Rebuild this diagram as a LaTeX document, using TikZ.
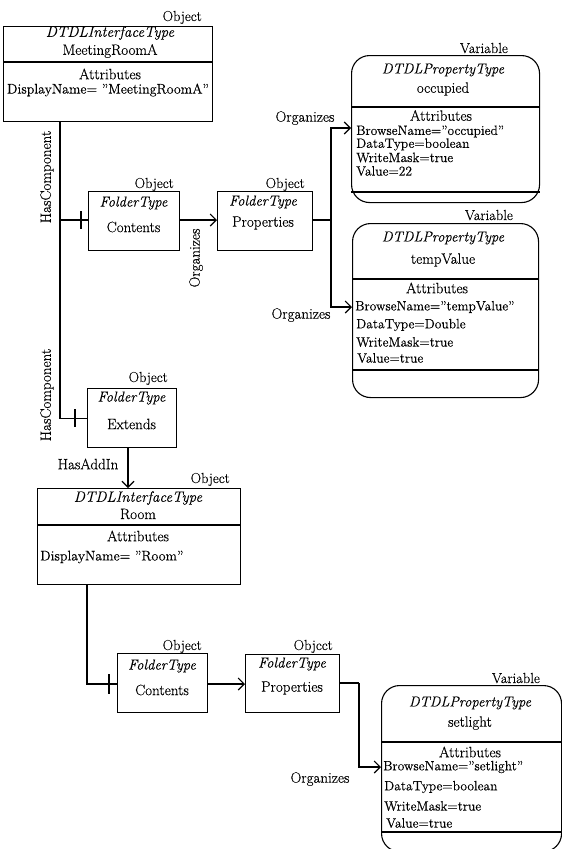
\documentclass[tikz,border=0pt]{standalone}
\usepackage{fontspec}
\setmainfont{Latin Modern Roman}[UprightFeatures={FakeBold=0.3},ItalicFeatures={FakeBold=0.05}]
\usetikzlibrary{arrows.meta,calc}
\tikzset{
  box/.style={draw, line width=1.1pt, inner sep=0pt, anchor=north west},
  vbox/.style={box, rounded corners=18pt},
  txt/.style={inner sep=0pt, font=\fontsize{15}{17}\selectfont},
  ittxt/.style={inner sep=0pt, font=\fontsize{14.5}{17}\selectfont\itshape},
  itsmall/.style={inner sep=0pt, font=\fontsize{15}{17}\selectfont\itshape},
  attr/.style={inner sep=0pt, anchor=west, font=\fontsize{13.5}{16}\selectfont},
  lbl/.style={inner sep=0pt, anchor=base east, font=\fontsize{14.5}{17}\selectfont},
  con/.style={line width=1.1pt},
  arr/.style={con, -{Straight Barb[length=6pt,width=12pt,line width=1.1pt]}},
}
\begin{document}
\begin{tikzpicture}[x=1pt,y=-1pt]
\clip (0,0) rectangle (562,849);
\fill[white] (0,0) rectangle (562,849);

% ---------- MeetingRoomA ----------
\node[box, minimum width=209pt, minimum height=95pt] (mra) at (3,26) {};
\draw[con] ($(mra.north west)+(0,36)$) -- ($(mra.north east)+(0,36)$);
\node[lbl] (mraL) at (202,21) {Object};
\node[itsmall] (mraT) at (110,33) {DTDLInterfaceType};
\node[txt] (mraN) at (110,51) {MeetingRoomA};
\node[txt] (mraA) at (110,74) {Attributes};
\node[txt, font=\fontsize{14}{17}\selectfont] (mraD) at (108,90) {DisplayName= ”MeetingRoomA”};

% ---------- Contents (A) ----------
\node[box, minimum width=91pt, minimum height=59pt] (cA) at (88,191) {};
\node[lbl] (cAL) at (174,188) {Object};
\node[ittxt] (cAT) at (133.5,203) {FolderType};
\node[txt] (cAN) at (133.5,227) {Contents};

% ---------- Properties (A) ----------
\node[box, minimum width=95pt, minimum height=59pt] (pA) at (217,191) {};
\node[lbl] (pAL) at (305,188) {Object};
\node[ittxt] (pAT) at (263,202) {FolderType};
\node[txt] (pAN) at (263,223) {Properties};

% ---------- occupied ----------
\node[vbox, minimum width=188pt, minimum height=147pt] (vO) at (351,55) {};
\draw[con] ($(vO.north west)+(0,52)$) -- ($(vO.north east)+(0,52)$);
\draw[con] ($(vO.north west)+(0,137)$) -- ($(vO.north east)+(0,137)$);
\node[lbl] (vOL) at (508,53) {Variable};
\node[ittxt] (vOT) at (443,70) {DTDLPropertyType};
\node[txt] (vON) at (443,89) {occupied};
\node[txt] (vOA) at (441,115.5) {Attributes};
\node[attr] (vO1) at (356,131.5) {BrowseName=”occupied”};
\node[attr] (vO2) at (356,144.5) {DataType=boolean};
\node[attr] (vO3) at (356,157.5) {WriteMask=true};
\node[attr] (vO4) at (356,171) {Value=22};

% ---------- tempValue ----------
\node[vbox, minimum width=186pt, minimum height=174pt] (vT) at (352,223) {};
\draw[con] ($(vT.north west)+(0,56)$) -- ($(vT.north east)+(0,56)$);
\draw[con] ($(vT.north west)+(0,147)$) -- ($(vT.north east)+(0,147)$);
\node[lbl] (vTL) at (513,220) {Variable};
\node[ittxt] (vTT) at (443,238) {DTDLPropertyType};
\node[txt] (vTN) at (443,260) {tempValue};
\node[txt] (vTA) at (437,288) {Attributes};
\node[attr] (vT1) at (355,307) {BrowseName=”tempValue”};
\node[attr] (vT2) at (356,325) {DataType=Double};
\node[attr] (vT3) at (356,342) {WriteMask=true};
\node[attr] (vT4) at (357,358) {Value=true};

% ---------- Extends ----------
\node[box, minimum width=89pt, minimum height=59pt] (ext) at (87,388) {};
\node[lbl] (extL) at (168,382) {Object};
\node[ittxt] (extT) at (131.5,398) {FolderType};
\node[txt] (extN) at (131.5,424) {Extends};

% ---------- Room ----------
\node[box, minimum width=203pt, minimum height=96pt] (room) at (37,488) {};
\draw[con] ($(room.north west)+(0,37)$) -- ($(room.north east)+(0,37)$);
\node[lbl] (roomL) at (230,483) {Object};
\node[itsmall] (roomT) at (138,498) {DTDLInterfaceType};
\node[txt] (roomN) at (138,514) {Room};
\node[txt] (roomA) at (138,536) {Attributes};
\node[attr, font=\fontsize{14}{17}\selectfont] (roomD) at (40,557) {DisplayName= ”Room”};

% ---------- Contents (B) ----------
\node[box, minimum width=90pt, minimum height=59pt] (cB) at (117,653) {};
\node[lbl] (cBL) at (202,650) {Object};
\node[ittxt] (cBT) at (162,666) {FolderType};
\node[txt] (cBN) at (162,690) {Contents};

% ---------- Properties (B) ----------
\node[box, minimum width=94pt, minimum height=58pt] (pB) at (245,654) {};
\node[lbl] (pBL) at (333,650) {Objcct};
\node[ittxt] (pBT) at (292,664) {FolderType};
\node[txt] (pBN) at (292,688) {Properties};

% ---------- setlight ----------
\node[vbox, minimum width=180pt, minimum height=166pt] (vS) at (381,685) {};
\draw[con] ($(vS.north west)+(0,57)$) -- ($(vS.north east)+(0,57)$);
\draw[con] ($(vS.north west)+(0,147)$) -- ($(vS.north east)+(0,147)$);
\node[lbl] (vSL) at (540,683) {Variable};
\node[ittxt] (vST) at (470,703) {DTDLPropertyType};
\node[txt] (vSN) at (470,723) {setlight};
\node[txt] (vSA) at (470,752) {Attributes};
\node[attr] (vS1) at (383,767) {BrowseName=”setlight”};
\node[attr] (vS2) at (384,787) {DataType=boolean};
\node[attr] (vS3) at (384,806) {WriteMask=true};
\node[attr] (vS4) at (386,823) {Value=true};

% ---------- connectors ----------
\coordinate (j1) at (60,220);
\coordinate (j2) at (60,418);
\draw[con] (mra.south -| j1) -- (j1 |- ext.west) -- (ext.west);
\draw[con] (j1) -- (j1 -| cA.west);
\draw[con] ($(j1 -| cA.west)+(-7,-9)$) -- ($(j1 -| cA.west)+(-7,9)$);
\draw[con] ($(ext.west)+(-12,-9)$) -- ($(ext.west)+(-12,9)$);
\node[txt, rotate=90] (hc1) at (47,177) {HasComponent};
\node[txt, rotate=90] (hc2) at (47,395) {HasComponent};

\draw[arr] (j1 -| cA.east) -- (j1 -| pA.west);
\node[txt, rotate=90] (orgA) at (196,258) {Organizes};

\coordinate (j3) at (331,220);
\draw[con] (j1 -| pA.east) -- (j3);
\draw[arr] (j3) |- ($(vO.north west)+(0,73)$);
\draw[arr] (j3) |- ($(vT.north west)+(0,84)$);
\node[txt] (orgO) at (305,118) {Organizes};
\node[txt] (orgT) at (301,315) {Organizes};

\coordinate (j6) at (128,447);
\draw[arr] (j6) -- (j6 |- room.north);
\node[txt] (hai) at (88,464) {HasAddIn};

\coordinate (j4) at (87,684);
\draw[con] (room.south -| j4) -- (j4) -- (j4 -| cB.west);
\draw[con] ($(j4 -| cB.west)+(-8,-10)$) -- ($(j4 -| cB.west)+(-8,10)$);
\draw[arr] (j4 -| cB.east) -- (j4 -| pB.west);

\coordinate (j5) at (359,683);
\draw[con] (j5 -| pB.east) -- (j5);
\draw[arr] (j5) |- ($(vS.north west)+(0,82)$);
\node[txt] (orgS) at (320,779) {Organizes};
\end{tikzpicture}
\end{document}
